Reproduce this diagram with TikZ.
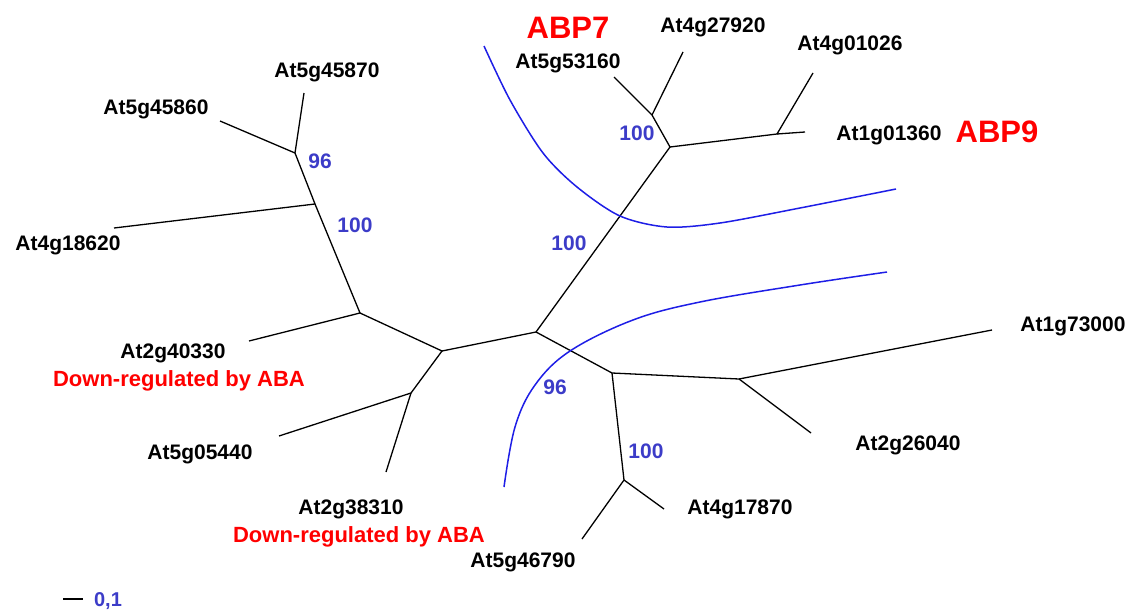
\documentclass[tikz,border=0pt]{standalone}
\usepackage{fontspec}
\setmainfont{Liberation Sans}
\begin{document}
\begin{tikzpicture}[x=1pt,y=-1pt,
  br/.style={line width=1.3pt,black},
  clade/.style={line width=1.5pt,color=cblue},
  lab/.style={inner sep=0pt,font=\fontsize{21}{25}\selectfont\bfseries,text height=15pt,text depth=0pt},
  redlab/.style={lab,font=\fontsize{22}{26}\selectfont\bfseries,text=red},
  big/.style={inner sep=0pt,font=\fontsize{31}{36}\selectfont\bfseries,text=red,text height=22pt,text depth=0pt},
  boot/.style={inner sep=0pt,font=\fontsize{21}{25}\selectfont\bfseries,text=bnum,text height=15pt,text depth=0pt}]
\definecolor{cblue}{RGB}{30,30,230}
\definecolor{bnum}{RGB}{60,60,200}
\useasboundingbox (0,0) rectangle (1134,613);
% internal nodes
\coordinate (J96) at (295,153);
\coordinate (JL) at (315,204);
\coordinate (JA) at (360,313);
\coordinate (JC) at (442,351);
\coordinate (JB) at (411,393);
\coordinate (JR) at (536,332);
\coordinate (JG) at (670,147);
\coordinate (JH) at (652,115);
\coordinate (JI) at (777,134);
\coordinate (JD) at (612,373);
\coordinate (JE) at (739,379);
\coordinate (JF) at (624,480);
% tips
\coordinate (t45870) at (304,93);
\coordinate (t45860) at (220,121);
\coordinate (t18620) at (114,228);
\coordinate (t40330) at (249,341);
\coordinate (t05440) at (279,436);
\coordinate (t38310) at (386,472);
\coordinate (t53160) at (614,77);
\coordinate (t27920) at (683,52);
\coordinate (t01026) at (813,73);
\coordinate (t01360) at (805,132);
\coordinate (t73000) at (992,330);
\coordinate (t26040) at (811,433);
\coordinate (t17870) at (664,509);
\coordinate (t46790) at (582,539);
% branches
\draw[br] (t45870) -- (J96) -- (t45860);
\draw[br] (J96) -- (JL) -- (t18620);
\draw[br] (JL) -- (JA) -- (t40330);
\draw[br] (JA) -- (JC) -- (JB) -- (t05440);
\draw[br] (JB) -- (t38310);
\draw[br] (JC) -- (JR) -- (JG) -- (JH) -- (t53160);
\draw[br] (JH) -- (t27920);
\draw[br] (JG) -- (JI) -- (t01026);
\draw[br] (JI) -- (t01360);
\draw[br] (JR) -- (JD) -- (JE) -- (t73000);
\draw[br] (JE) -- (t26040);
\draw[br] (JD) -- (JF) -- (t17870);
\draw[br] (JF) -- (t46790);
% clade curves
\draw[clade] plot[smooth,tension=0.5] coordinates {(484,46) (510,100) (543,153) (577,187) (620,216) (667,227) (720,223) (800,208) (896,189)};
\draw[clade] plot[smooth,tension=0.6] coordinates {(504,487) (515,427) (535,385) (570,351) (633,320) (700,302) (800,285) (887,272)};
% leaf labels
\node[lab] (n45870) at (327,70) {At5g45870};
\node[lab] (n45860) at (156,107) {At5g45860};
\node[lab] (n18620) at (68,243) {At4g18620};
\node[lab] (n40330) at (173,351) {At2g40330};
\node[redlab] (d1) at (179,379) {Down-regulated by ABA};
\node[lab] (n05440) at (200,452) {At5g05440};
\node[lab] (n38310) at (351,507) {At2g38310};
\node[redlab] (d2) at (359,535) {Down-regulated by ABA};
\node[lab] (n46790) at (523,560) {At5g46790};
\node[lab] (n17870) at (740,507) {At4g17870};
\node[lab] (n26040) at (908,443) {At2g26040};
\node[lab] (n73000) at (1073,324) {At1g73000};
\node[lab] (n01360) at (889,133) {At1g01360};
\node[big] (abp9) at (997,131) {ABP9};
\node[lab] (n01026) at (850,43) {At4g01026};
\node[lab] (n27920) at (713,25) {At4g27920};
\node[lab] (n53160) at (568,61) {At5g53160};
\node[big] (abp7) at (568,27) {ABP7};
% bootstrap values
\node[boot] (b1) at (320,161) {96};
\node[boot] (b2) at (355,225) {100};
\node[boot] (b3) at (637,133) {100};
\node[boot] (b4) at (569,243) {100};
\node[boot] (b5) at (555,387) {96};
\node[boot] (b6) at (646,451) {100};
% scale bar
\coordinate (s1) at (63,599);
\coordinate (s2) at (83,599);
\draw[br] (s1) -- (s2);
\node[boot,font=\fontsize{20}{24}\selectfont\bfseries] (sc) at (108,599) {0,1};
\end{tikzpicture}
\end{document}
